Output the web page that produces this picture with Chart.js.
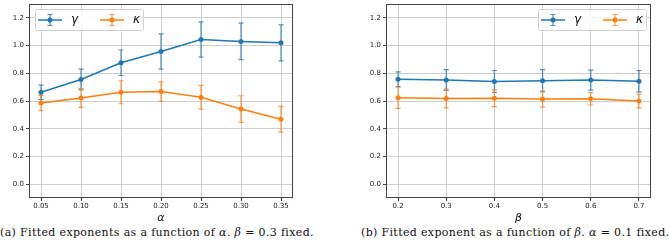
<!DOCTYPE html>
<html>
<head>
<meta charset="utf-8">
<script src="https://cdn.jsdelivr.net/npm/chart.js@4.4.0/dist/chart.umd.min.js"></script>
<style>
  html, body { margin: 0; padding: 0; background: #fff; }
  body { width: 669px; height: 249px; position: relative; overflow: hidden; }
  canvas { position: absolute; top: 0; }
  .cap { position: absolute; font-family: "DejaVu Serif", serif; font-size: 11px; letter-spacing: 0.35px; color: #111; white-space: nowrap; top: 226px; }
</style>
</head>
<body>
<canvas id="c1" width="300" height="226" style="left:0px"></canvas>
<canvas id="c2" width="303" height="226" style="left:357px"></canvas>
<div class="cap" id="capA" style="left:0px">(a) Fitted exponents as a function of <i>α</i>. <i>β</i> = 0.3 fixed.</div>
<div class="cap" id="capB" style="left:361px">(b) Fitted exponent as a function of <i>β</i>. <i>α</i> = 0.1 fixed.</div>
<script>
// ---- data ----
const alphaVals = [0.05, 0.10, 0.15, 0.20, 0.25, 0.30, 0.35];
const gammaVsAlpha = [0.663, 0.755, 0.876, 0.957, 1.044, 1.030, 1.020];
const gammaVsAlphaErr = [0.052, 0.075, 0.092, 0.127, 0.127, 0.132, 0.130];
const kappaVsAlpha = [0.585, 0.622, 0.663, 0.668, 0.627, 0.542, 0.468];
const kappaVsAlphaErr = [0.055, 0.068, 0.083, 0.070, 0.086, 0.096, 0.093];

const betaVals = [0.2, 0.3, 0.4, 0.5, 0.6, 0.7];
const gammaVsBeta = [0.757, 0.752, 0.741, 0.747, 0.751, 0.743];
const gammaVsBetaErr = [0.053, 0.075, 0.079, 0.080, 0.072, 0.077];
const kappaVsBeta = [0.624, 0.618, 0.620, 0.614, 0.616, 0.600];
const kappaVsBetaErr = [0.077, 0.068, 0.060, 0.058, 0.045, 0.050];

const yTickVals = [0.0, 0.2, 0.4, 0.6, 0.8, 1.0, 1.2];
const seriesLabels = ['γ', 'κ'];
const BLUE = '#1f77b4', ORANGE = '#ff7f0e';

Chart.defaults.font.family = 'DejaVu Sans';
Chart.defaults.color = '#222';

function pts(xs, ys) { return xs.map((x, i) => ({ x: x, y: ys[i] })); }

function hexA(hex, a) {
  const n = parseInt(hex.slice(1), 16);
  return `rgba(${(n >> 16) & 255},${(n >> 8) & 255},${n & 255},${a})`;
}

const errorBarPlugin = {
  id: 'errorBars',
  beforeDatasetsDraw(chart) {
    const ctx = chart.ctx, xs = chart.scales.x, ys = chart.scales.y;
    chart.data.datasets.forEach(ds => {
      ctx.save();
      ctx.strokeStyle = hexA(ds.borderColor, 0.8);
      ctx.lineWidth = 1.2;
      ds.data.forEach((p, i) => {
        const e = ds.errors[i];
        const px = xs.getPixelForValue(p.x);
        const y1 = ys.getPixelForValue(p.y + e), y2 = ys.getPixelForValue(p.y - e);
        ctx.beginPath();
        ctx.moveTo(px, y1); ctx.lineTo(px, y2);
        ctx.moveTo(px - 2.5, y1); ctx.lineTo(px + 2.5, y1);
        ctx.moveTo(px - 2.5, y2); ctx.lineTo(px + 2.5, y2);
        ctx.stroke();
      });
      ctx.restore();
    });
  }
};

const framePlugin = {
  id: 'frame',
  afterDraw(chart, args, opts) {
    const ctx = chart.ctx, a = chart.chartArea;
    ctx.save();
    ctx.strokeStyle = '#444';
    ctx.lineWidth = 1;
    ctx.strokeRect(Math.round(a.left) + 0.5, Math.round(a.top) + 0.5, Math.round(a.right - a.left) - 1, Math.round(a.bottom - a.top) - 1);
    // legend
    const w = 108, h = 21;
    const bx = opts.legendSide === 'left' ? a.left + 6 : a.right - 5 - w;
    const by = a.top + 5;
    ctx.fillStyle = 'rgba(255,255,255,0.85)';
    ctx.strokeStyle = '#d0d0d0';
    ctx.beginPath();
    if (ctx.roundRect) ctx.roundRect(bx + 0.5, by + 0.5, w, h, 2); else ctx.rect(bx + 0.5, by + 0.5, w, h);
    ctx.fill(); ctx.stroke();
    const cy = by + h / 2 + 0.5;
    chart.data.datasets.forEach((ds, k) => {
      const x0 = bx + 3 + k * 62;
      const xm = x0 + 12;
      ctx.strokeStyle = ds.borderColor; ctx.lineWidth = 1.5;
      ctx.beginPath(); ctx.moveTo(x0, cy); ctx.lineTo(x0 + 24, cy); ctx.stroke();
      ctx.strokeStyle = hexA(ds.borderColor, 0.8); ctx.lineWidth = 1.2;
      ctx.beginPath();
      ctx.moveTo(xm, cy - 5.5); ctx.lineTo(xm, cy + 5.5);
      ctx.moveTo(xm - 2.5, cy - 5.5); ctx.lineTo(xm + 2.5, cy - 5.5);
      ctx.moveTo(xm - 2.5, cy + 5.5); ctx.lineTo(xm + 2.5, cy + 5.5);
      ctx.stroke();
      ctx.fillStyle = ds.borderColor;
      ctx.beginPath(); ctx.arc(xm, cy, 2.5, 0, Math.PI * 2); ctx.fill();
      ctx.fillStyle = '#111';
      ctx.font = 'italic 12px "DejaVu Sans"';
      ctx.textBaseline = 'middle';
      ctx.textAlign = 'left';
      ctx.fillText(ds.label, x0 + 33, cy);
    });
    ctx.restore();
  }
};

function makeChart(id, xVals, gVals, gErr, kVals, kErr, xMin, xMax, xDec, xTitle, legendSide) {
  return new Chart(document.getElementById(id), {
    type: 'line',
    data: {
      datasets: [
        { label: seriesLabels[0], data: pts(xVals, gVals), errors: gErr, borderColor: BLUE, backgroundColor: BLUE,
          borderWidth: 1.5, pointRadius: 2.5, pointBorderWidth: 0, tension: 0 },
        { label: seriesLabels[1], data: pts(xVals, kVals), errors: kErr, borderColor: ORANGE, backgroundColor: ORANGE,
          borderWidth: 1.5, pointRadius: 2.5, pointBorderWidth: 0, tension: 0 }
      ]
    },
    options: {
      responsive: false,
      animation: false,
      layout: { padding: { top: 1, right: id === 'c1' ? 7 : 9, left: 0, bottom: 0 } },
      plugins: { legend: { display: false }, tooltip: { enabled: false }, frame: { legendSide: legendSide } },
      scales: {
        x: {
          type: 'linear', min: xMin, max: xMax,
          afterBuildTicks: s => { s.ticks = xVals.map(v => ({ value: v })); },
          afterFit: s => { s.height = 28; s.paddingLeft = 0; s.paddingRight = 0; },
          ticks: { callback: v => Number(v).toFixed(xDec), font: { size: 7 }, padding: 1, maxRotation: 0, color: '#222' },
          grid: { color: '#cfcfcf', lineWidth: 1, drawTicks: true, tickLength: 3, tickColor: '#444' },
          border: { display: false },
          title: { display: true, text: xTitle, font: { size: 11, style: 'italic' }, padding: { top: 0, bottom: 1 }, color: '#111' }
        },
        y: {
          type: 'linear', min: -0.1, max: 1.3,
          afterBuildTicks: s => { s.ticks = yTickVals.map(v => ({ value: v })); },
          afterFit: s => { s.width = 29; s.paddingTop = 0; s.paddingBottom = 0; },
          ticks: { callback: v => Number(v).toFixed(1), font: { size: 7 }, padding: 2, color: '#222' },
          grid: { color: '#cfcfcf', lineWidth: 1, drawTicks: true, tickLength: 3, tickColor: '#444' },
          border: { display: false }
        }
      }
    },
    plugins: [errorBarPlugin, framePlugin]
  });
}

makeChart('c1', alphaVals, gammaVsAlpha, gammaVsAlphaErr, kappaVsAlpha, kappaVsAlphaErr, 0.035, 0.365, 2, 'α', 'left');
makeChart('c2', betaVals, gammaVsBeta, gammaVsBetaErr, kappaVsBeta, kappaVsBetaErr, 0.175, 0.725, 1, 'β', 'right');
</script>
</body>
</html>
